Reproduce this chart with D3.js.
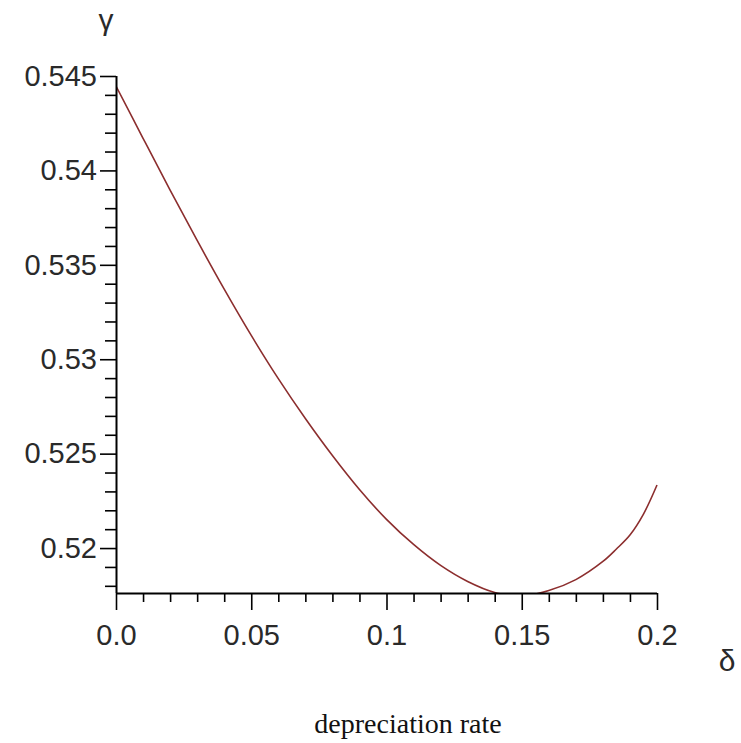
<!DOCTYPE html>
<html>
<head>
<meta charset="utf-8">
<script src="https://cdn.jsdelivr.net/npm/d3@7"></script>
<style>
  html, body { margin: 0; padding: 0; background: #fff; }
  svg { display: block; }
</style>
</head>
<body>
<svg id="chart" width="741" height="743"></svg>
<script>
// ---- data ----
const deltaValues = [0.0, 0.01, 0.02, 0.03, 0.04, 0.05, 0.06, 0.07, 0.08, 0.09, 0.10, 0.11, 0.12, 0.13, 0.14, 0.15, 0.16, 0.17, 0.18, 0.185, 0.19, 0.195, 0.2];
const gammaValues = [0.54447, 0.54170, 0.53896, 0.53629, 0.53371, 0.53126, 0.52897, 0.52686, 0.52490, 0.52310, 0.52152, 0.52019, 0.51908, 0.51823, 0.51765, 0.51746, 0.51775, 0.51833, 0.51929, 0.51995, 0.52069, 0.52180, 0.52334];
const xTickValues = [0, 0.05, 0.1, 0.15, 0.2];
const xTickLabels = ["0.0", "0.05", "0.1", "0.15", "0.2"];
const yTickValues = [0.52, 0.525, 0.53, 0.535, 0.54, 0.545];
const yTickLabels = ["0.52", "0.525", "0.53", "0.535", "0.54", "0.545"];
const xDomain = [0, 0.2];
const yDomain = [0.51762, 0.545];
const xTitle = "δ";
const yTitle = "γ";
const caption = "depreciation rate";

(function () {
// ---- layout ----
const svg = d3.select("#chart");
const pL = 116, pR = 657, pT = 76, pB = 593;

const x = d3.scaleLinear().domain(xDomain).range([pL, pR]);
const y = d3.scaleLinear().domain(yDomain).range([pB, pT]);

svg.append("rect").attr("width", 741).attr("height", 743).attr("fill", "#fff");

svg.append("clipPath").attr("id", "plotclip")
  .append("rect").attr("x", pL).attr("y", pT - 2).attr("width", pR - pL + 2).attr("height", pB - pT + 2);

// curve
const pts = deltaValues.map((d, i) => [d, gammaValues[i]]);
const line = d3.line().x(d => x(d[0])).y(d => y(d[1])).curve(d3.curveCatmullRom.alpha(0.5));
svg.append("path")
  .attr("d", line(pts))
  .attr("clip-path", "url(#plotclip)")
  .attr("fill", "none")
  .attr("stroke", "#8c2e2e")
  .attr("stroke-width", 1.6);

const labelFont = "'Liberation Sans', Arial, sans-serif";

// x axis: minor ticks every 0.01
const xMinor = d3.range(0, 0.2001, 0.01).filter(v => !xTickValues.some(t => Math.abs(t - v) < 1e-9));
const xAxisMinor = d3.axisBottom(x).tickValues(xMinor).tickSize(9).tickFormat("");
const xAxisMajor = d3.axisBottom(x).tickValues(xTickValues).tickSize(17)
  .tickFormat((d, i) => xTickLabels[i]).tickPadding(12);

const gxMinor = svg.append("g").attr("transform", `translate(0,${pB})`).call(xAxisMinor);
const gx = svg.append("g").attr("transform", `translate(0,${pB})`).call(xAxisMajor);
gxMinor.select(".domain").remove();
[gx, gxMinor].forEach(g => {
  g.selectAll(".tick line").attr("stroke", "#000").attr("stroke-width", 1.6);
});
gx.select(".domain").attr("stroke", "#000").attr("stroke-width", 2).attr("d", `M${pL},0.5H${pR}`);
gx.selectAll(".tick text")
  .attr("font-family", labelFont).attr("font-size", 29).attr("fill", "#2a2a2a")
  .attr("dy", null).attr("y", 52);

// y axis: minor ticks every 0.001
const yMinor = d3.range(0.518, 0.5451, 0.001).filter(v => !yTickValues.some(t => Math.abs(t - v) < 1e-9));
const yAxisMinor = d3.axisLeft(y).tickValues(yMinor).tickSize(11).tickFormat("");
const yAxisMajor = d3.axisLeft(y).tickValues(yTickValues).tickSize(16)
  .tickFormat((d, i) => yTickLabels[i]).tickPadding(3);

const gyMinor = svg.append("g").attr("transform", `translate(${pL},0)`).call(yAxisMinor);
const gy = svg.append("g").attr("transform", `translate(${pL},0)`).call(yAxisMajor);
gyMinor.select(".domain").remove();
[gy, gyMinor].forEach(g => {
  g.selectAll(".tick line").attr("stroke", "#000").attr("stroke-width", 1.6);
});
gy.select(".domain").attr("stroke", "#000").attr("stroke-width", 2).attr("d", `M0.5,${pT}V${pB}`);
gy.selectAll(".tick text")
  .attr("font-family", labelFont).attr("font-size", 29).attr("fill", "#2a2a2a")
  .attr("x", -19);

// titles
svg.append("text").attr("x", 106).attr("y", 30).attr("text-anchor", "middle")
  .attr("font-family", labelFont).attr("font-size", 30).attr("fill", "#2a2a2a").text(yTitle);
svg.append("text").attr("x", 727).attr("y", 671).attr("text-anchor", "middle")
  .attr("font-family", labelFont).attr("font-size", 30).attr("fill", "#2a2a2a").text(xTitle);
svg.append("text").attr("x", 408).attr("y", 733).attr("text-anchor", "middle")
  .attr("font-family", "'Liberation Serif', 'Times New Roman', serif").attr("font-size", 28).attr("fill", "#111").text(caption);
})();
</script>
</body>
</html>
